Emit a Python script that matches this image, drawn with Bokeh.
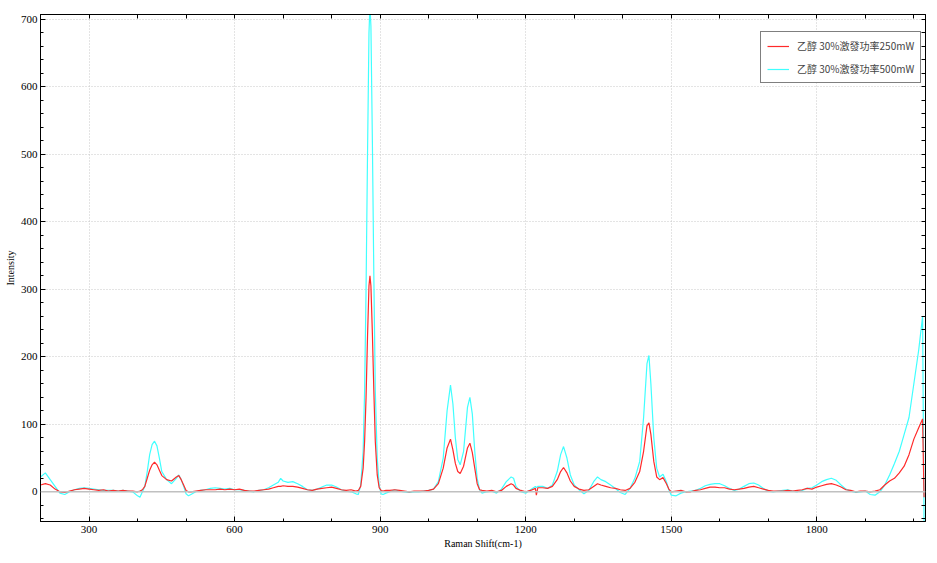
from bokeh.plotting import figure
from bokeh.models import (ColumnDataSource, Legend, LegendItem, FixedTicker, LinearAxis,
                          Span, Range1d)
from bokeh.embed import file_html
from bokeh.resources import INLINE

# ---- data ----
wavenumber = [200, 210, 220, 230, 240, 250, 260, 270, 280, 290, 300, 310, 320, 330, 340, 350, 360,
              370, 380, 390, 400, 405, 410, 415, 420, 425, 430, 435, 440, 445, 450, 460, 470, 480,
              485, 490, 495, 500, 505, 510, 520, 530, 540, 550, 560, 570, 580, 590, 600, 610, 620,
              630, 640, 650, 660, 670, 680, 690, 695, 700, 710, 720, 730, 740, 750, 760, 770, 780,
              790, 800, 810, 820, 830, 840, 850, 855, 860, 865, 868, 871, 874, 877, 879, 881, 884,
              887, 890, 894, 898, 902, 906, 912, 920, 930, 940, 950, 960, 970, 980, 990, 1000, 1010,
              1020, 1030, 1038, 1045, 1050, 1055, 1060, 1065, 1072, 1080, 1085, 1090, 1095, 1100,
              1105, 1110, 1120, 1130, 1140, 1150, 1160, 1170, 1175, 1180, 1190, 1200, 1210, 1220,
              1222, 1225, 1235, 1245, 1255, 1265, 1272, 1278, 1285, 1292, 1300, 1310, 1320, 1330,
              1340, 1348, 1355, 1365, 1375, 1385, 1395, 1405, 1415, 1425, 1435, 1443, 1450, 1454,
              1458, 1464, 1470, 1476, 1483, 1490, 1495, 1500, 1510, 1520, 1530, 1540, 1550, 1560,
              1570, 1580, 1590, 1600, 1610, 1620, 1630, 1640, 1650, 1660, 1670, 1680, 1690, 1700,
              1710, 1720, 1730, 1740, 1750, 1760, 1770, 1780, 1790, 1800, 1810, 1820, 1830, 1840,
              1850, 1860, 1870, 1880, 1890, 1900, 1910, 1920, 1930, 1940, 1950, 1960, 1970, 1980,
              1990, 2000, 2010, 2018, 2021]

intensity_500mW = [22, 28, 18, 8, -2, -4, 0, 3, 5, 6, 5, 4, 3, 2, 2, 2, 1,
                   2, 1, 0, -6, -8, 0, 8, 30, 55, 70, 75, 68, 50, 30, 18, 12, 20,
                   25, 18, 8, -3, -6, -4, 0, 2, 3, 5, 6, 5, 4, 5, 3, 3, 2,
                   1, 0, 2, 3, 6, 10, 14, 20, 16, 14, 15, 12, 8, 3, 2, 4, 7,
                   10, 10, 7, 3, 1, 0, -3, -4, 10, 60, 150, 300, 500, 680, 720, 690, 520,
                   320, 150, 50, 10, -3, -4, -2, 0, 3, 1, 0, -1, 0, 0, 1, 2, 4,
                   15, 50, 120, 158, 130, 80, 48, 40, 60, 125, 140, 115, 60, 20,
                   3, -2, 0, 1, -2, 4, 15, 22, 20, 8, 0, -2, 3, 8,
                   6, 8, 8, 5, 10, 30, 55, 67, 50, 25, 10, 3, -3, 2,
                   15, 22, 18, 15, 10, 5, -1, -4, 5, 20, 45, 110, 190, 202,
                   160, 80, 35, 22, 26, 15, 3, -5, -6, -2, 0, 1, 2, 5,
                   9, 11, 12, 12, 9, 5, 2, 4, 8, 12, 13, 10, 5, 1,
                   0, 1, 2, 3, 1, 0, 2, 5, 6, 10, 15, 18, 20, 17,
                   10, 4, 1, -1, 0, 1, -4, -5, 0, 10, 25, 42, 60, 85,
                   110, 160, 210, 260, -46]

intensity_250mW = [10, 12, 10, 4, 0, -1, 1, 3, 4, 5, 4, 3, 2, 3, 1, 2, 1,
                   2, 1, 1, 0, 1, 3, 8, 20, 32, 40, 44, 40, 32, 24, 18, 16, 22,
                   24, 18, 10, 2, 0, 0, 1, 2, 3, 3, 3, 4, 3, 4, 3, 4, 2,
                   1, 1, 2, 3, 4, 6, 8, 8, 9, 8, 8, 7, 5, 3, 2, 4, 5,
                   6, 7, 5, 3, 2, 3, 1, 2, 8, 35, 75, 140, 230, 305, 320, 305, 235,
                   150, 75, 25, 6, 2, 1, 2, 2, 3, 2, 1, 0, 1, 1, 1, 2, 4,
                   12, 35, 65, 78, 62, 42, 30, 27, 38, 65, 72, 58, 35, 12,
                   3, 2, 1, 2, 0, 2, 8, 12, 10, 5, 2, 0, 2, 5,
                   -5, 6, 6, 5, 8, 18, 30, 36, 28, 16, 8, 4, 2, 3,
                   8, 12, 10, 8, 6, 5, 3, 2, 5, 14, 30, 60, 98, 102,
                   85, 45, 22, 18, 21, 12, 4, 0, 1, 2, 0, 0, 2, 3,
                   5, 7, 7, 6, 6, 4, 3, 4, 5, 7, 8, 6, 4, 2,
                   1, 1, 1, 2, 1, 2, 3, 5, 4, 7, 9, 11, 12, 10,
                   7, 3, 2, 0, 1, 1, 0, 1, 3, 10, 16, 20, 28, 38,
                   55, 78, 95, 108, -8]

legend_labels = ["乙醇 30%激發功率250mW", "乙醇 30%激發功率500mW"]
x_major_ticks = [300, 600, 900, 1200, 1500, 1800]
x_minor_ticks = list(range(200, 2025, 100))
y_major_ticks = [0, 100, 200, 300, 400, 500, 600, 700]
y_minor_ticks = list(range(-40, 708, 20))

serif = "Liberation Serif"
cjk = "Noto Sans CJK TC"

src = ColumnDataSource(dict(x=wavenumber, lo=intensity_250mW, hi=intensity_500mW))

p = figure(width=930, height=555, output_backend="svg", toolbar_location=None,
           x_range=Range1d(200, 2024), y_range=Range1d(-44, 707),
           min_border_left=40, min_border_right=5, min_border_top=14, min_border_bottom=34,
           x_axis_label="Raman Shift(cm-1)", y_axis_label="Intensity")
p.background_fill_color = "white"
p.border_fill_color = "white"
p.outline_line_color = "black"
p.outline_line_width = 1

# grid
for g in (p.xgrid, p.ygrid):
    g.grid_line_color = "#c8c8c8"
    g.grid_line_dash = "1 2"
    g.grid_line_width = 1
p.xgrid.ticker = FixedTicker(ticks=x_major_ticks)
p.ygrid.ticker = FixedTicker(ticks=y_major_ticks)

p.add_layout(Span(location=0, dimension="width", line_color="#c0c0c0", line_width=1.5))

r_hi = p.line("x", "hi", source=src, line_color="#40ffff", line_width=1.2)
r_lo = p.line("x", "lo", source=src, line_color="#ff2a2a", line_width=1.2)

def style_axis(ax):
    ax.axis_line_color = "black"
    ax.major_tick_in = 5
    ax.major_tick_out = 0
    ax.minor_tick_in = 3
    ax.minor_tick_out = 0
    ax.major_tick_line_color = "black"
    ax.minor_tick_line_color = "black"
    ax.major_label_text_font = serif
    ax.major_label_text_font_size = "11px"
    ax.major_label_text_color = "black"
    ax.axis_label_text_font = serif
    ax.axis_label_text_font_size = "10px"
    ax.axis_label_text_font_style = "normal"
    ax.axis_label_text_color = "black"

xa = p.xaxis[0]
xa.ticker = FixedTicker(ticks=x_major_ticks, minor_ticks=x_minor_ticks)
style_axis(xa)
xa.major_label_standoff = 4
xa.axis_label_standoff = 2

ya = p.yaxis[0]
ya.ticker = FixedTicker(ticks=y_major_ticks, minor_ticks=y_minor_ticks)
style_axis(ya)
ya.major_label_standoff = 3
ya.axis_label_standoff = 2

# frame ticks on top / right (no labels: all drawn as unlabeled ticks)
top = LinearAxis(ticker=FixedTicker(ticks=[], minor_ticks=x_minor_ticks))
style_axis(top)
top.minor_tick_in = 4
top.major_label_standoff = 0
p.add_layout(top, "above")
right = LinearAxis(ticker=FixedTicker(ticks=[], minor_ticks=y_minor_ticks))
style_axis(right)
right.minor_tick_in = 4
right.major_label_standoff = 0
p.add_layout(right, "right")

legend = Legend(items=[LegendItem(label=legend_labels[0], renderers=[r_lo]),
                       LegendItem(label=legend_labels[1], renderers=[r_hi])],
                location=(720, 438))
legend.border_line_color = "black"
legend.border_line_width = 1
legend.background_fill_alpha = 1
legend.label_text_font = cjk
legend.label_text_font_size = "10px"
legend.glyph_width = 22
legend.glyph_height = 12
legend.spacing = 8
legend.padding = 6
legend.margin = 0
legend.label_standoff = 8
p.add_layout(legend, "center")

open("out.html", "w").write(file_html(p, INLINE))
